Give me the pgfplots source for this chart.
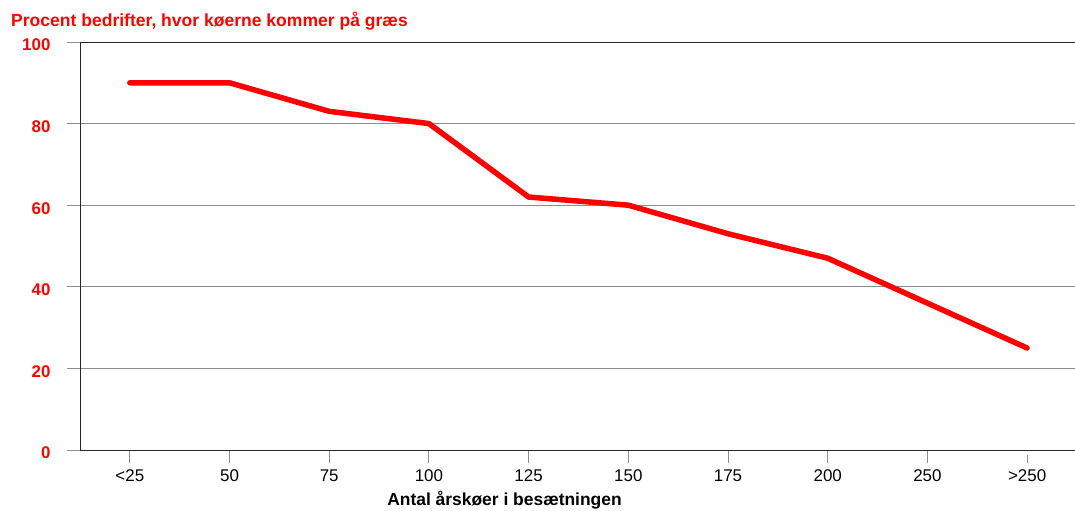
\documentclass[border=0pt]{standalone}
\usepackage{pgfplots}
\pgfplotsset{compat=1.18}
\usepackage{fontspec}
\setmainfont{Liberation Sans}
\definecolor{lred}{RGB}{255,0,0}
\definecolor{gridgray}{RGB}{140,140,140}
\definecolor{axisdark}{RGB}{40,40,40}
\begin{document}
\begin{tikzpicture}[x=1bp,y=1bp]
\useasboundingbox (-80,-61) rectangle (995,450);
\begin{axis}[
  at={(0,0)}, anchor=south west,
  scale only axis, width=997bp, height=408bp,
  xmin=-0.5, xmax=9.5, ymin=0, ymax=100,
  xtick={0,...,9},
  xticklabels={<25,50,75,100,125,150,175,200,250,>250},
  ytick={0,20,40,60,80,100},
  xtick pos=bottom, ytick pos=left,
  ymajorgrids,
  grid style={gridgray, line width=0.9bp},
  axis line style={axisdark, line width=0.9bp},
  tick align=outside,
  major tick length=13bp,
  xtick style={gridgray, line width=1bp, shorten >=5bp},
  ytick style={gridgray, line width=0.9bp},
  xticklabel style={font=\fontsize{17}{20}\selectfont, text=black, yshift=-3bp},
  yticklabel style={font=\fontsize{17}{20}\selectfont\bfseries, text=lred, xshift=-13bp, yshift=-3bp},
  /pgf/number format/assume math mode=true,
  clip=false,
]
\addplot[lred, line width=5.5bp, line cap=round, line join=round] coordinates {
 (0,90) (1,90) (2,83) (3,80) (4,62) (5,60) (6,53) (7,47) (8,36) (9,25)
};
\end{axis}
\node[anchor=base west, inner sep=0, text=lred, font=\fontsize{17.6}{20}\selectfont\bfseries] at (-69,423) {Procent bedrifter, hvor køerne kommer på græs};
\node[anchor=base, inner sep=0, font=\fontsize{17.5}{20}\selectfont\bfseries] at (424.5,-56) {Antal årskøer i besætningen};
\end{tikzpicture}
\end{document}
